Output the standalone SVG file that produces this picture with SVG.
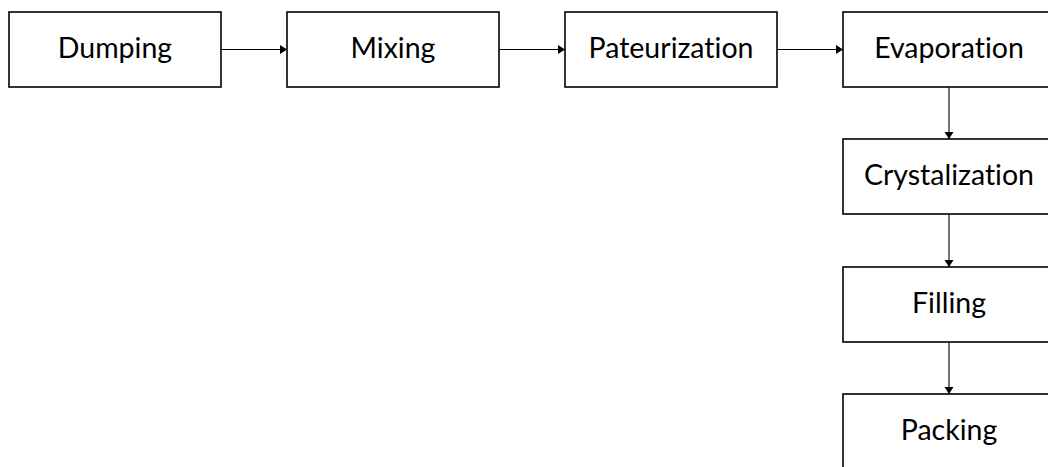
<svg xmlns="http://www.w3.org/2000/svg" width="1048" height="467" viewBox="0 0 1048 467">
<style>
.box{fill:#fff;stroke:#000;stroke-width:1.6}
.lbl{font-family:Lato,"Liberation Sans",sans-serif;font-size:28.5px;fill:#000;text-anchor:middle;font-variant-ligatures:none;font-feature-settings:"liga" 0}
.con{stroke:#000;stroke-width:1.1;fill:none;marker-end:url(#ah)}
</style>
<defs>
<marker id="ah" markerUnits="userSpaceOnUse" markerWidth="9" markerHeight="10" refX="7" refY="5" orient="auto">
<path d="M0,0.5 L7,5 L0,9.5 Z" fill="#000"/>
</marker>
</defs>
<rect width="1048" height="467" fill="#fff"/>
<g id="connectors">
<line class="con" x1="221" y1="49.5" x2="287" y2="49.5"/>
<line class="con" x1="499" y1="49.5" x2="565" y2="49.5"/>
<line class="con" x1="777" y1="49.5" x2="843" y2="49.5"/>
<line class="con" x1="949" y1="87" x2="949" y2="139"/>
<line class="con" x1="949" y1="214" x2="949" y2="267"/>
<line class="con" x1="949" y1="342" x2="949" y2="394"/>
</g>
<g id="dumping"><rect class="box" x="9" y="12" width="212" height="75"/><text class="lbl" x="115" y="58">Dumping</text></g>
<g id="mixing"><rect class="box" x="287" y="12" width="212" height="75"/><text class="lbl" x="393" y="58">Mixing</text></g>
<g id="pateurization"><rect class="box" x="565" y="12" width="212" height="75"/><text class="lbl" x="671" y="58">Pateurization</text></g>
<g id="evaporation"><rect class="box" x="843" y="12" width="212" height="75"/><text class="lbl" x="949" y="58">Evaporation</text></g>
<g id="crystalization"><rect class="box" x="843" y="139" width="212" height="75"/><text class="lbl" x="949" y="185">Crystalization</text></g>
<g id="filling"><rect class="box" x="843" y="267" width="212" height="75"/><text class="lbl" x="949" y="313">Filling</text></g>
<g id="packing"><rect class="box" x="843" y="394" width="212" height="75"/><text class="lbl" x="949" y="440">Packing</text></g>
</svg>
